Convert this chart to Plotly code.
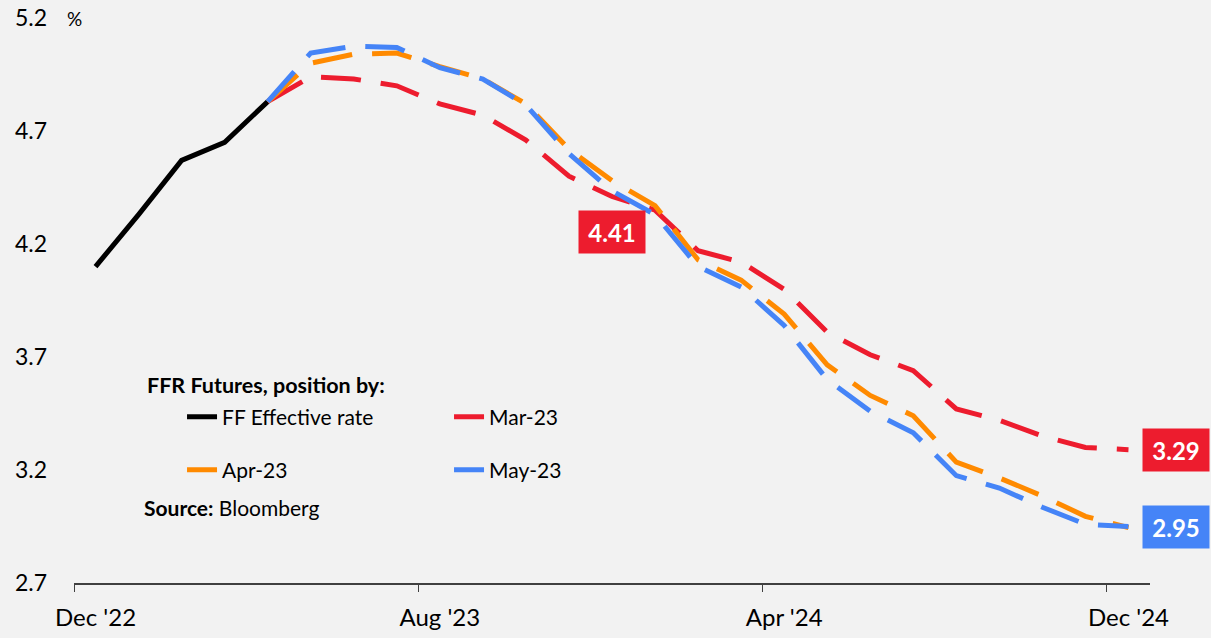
import plotly.graph_objects as go

# Categories: monthly, Dec '22 .. Dec '24 (index 0..24)
months = list(range(25))
tick_idx = [0, 8, 16, 24]
tick_text = ["Dec '22", "Aug '23", "Apr '24", "Dec '24"]
y_ticks = [2.7, 3.2, 3.7, 4.2, 4.7, 5.2]

N = None
ff_effective = [4.10, 4.33, 4.57, 4.65, 4.83] + [N] * 20
mar23 = [N, N, N, N, 4.83, 4.94, 4.93, 4.90, 4.82, 4.77, 4.66, 4.50, 4.41,
         4.35, 4.17, 4.12, 4.00, 3.81, 3.71, 3.64, 3.47, 3.42, 3.35, 3.30, 3.29]
apr23 = [N, N, N, N, 4.83, 5.00, 5.04, 5.045, 4.985, 4.93, 4.82, 4.62, 4.48,
         4.37, 4.13, 4.04, 3.89, 3.665, 3.53, 3.44, 3.235, 3.165, 3.085, 2.995, 2.945]
may23 = [N, N, N, N, 4.83, 5.045, 5.075, 5.07, 4.98, 4.93, 4.815, 4.60, 4.435,
         4.33, 4.10, 4.01, 3.84, 3.60, 3.46, 3.365, 3.175, 3.12, 3.035, 2.96, 2.95]

RED = "#ED1C2E"
ORANGE = "#FF8A00"
BLUE = "#4584F7"
BG = "#F2F2F2"
FONT = "Lato"
DASH = "40px,20px"

fig = go.Figure()
fig.add_trace(go.Scatter(x=months, y=ff_effective, mode="lines", name="FF Effective rate",
                         line=dict(color="#000000", width=5), legend="legend"))
fig.add_trace(go.Scatter(x=months, y=mar23, mode="lines", name="Mar-23",
                         line=dict(color=RED, width=5, dash=DASH), legend="legend"))
fig.add_trace(go.Scatter(x=months, y=apr23, mode="lines", name="Apr-23",
                         line=dict(color=ORANGE, width=5, dash=DASH), legend="legend2"))
fig.add_trace(go.Scatter(x=months, y=may23, mode="lines", name="May-23",
                         line=dict(color=BLUE, width=5, dash=DASH), legend="legend2"))

legend_common = dict(orientation="h", entrywidth=222, xanchor="left", yanchor="middle",
                     bgcolor="rgba(0,0,0,0)", font=dict(family=FONT, size=21, color="#000000"),
                     traceorder="normal")
fig.update_layout(
    width=1211, height=638,
    paper_bgcolor=BG, plot_bgcolor=BG,
    margin=dict(l=74, r=61, t=18, b=55, autoexpand=False),
    font=dict(family=FONT, color="#000000"),
    legend=dict(x=0.1004, y=0.2938, **legend_common),
    legend2=dict(x=0.1004, y=0.200, **legend_common),
    xaxis=dict(range=[-0.5, 24.5], tickmode="array", tickvals=tick_idx, ticktext=tick_text,
               ticks="", showgrid=False, zeroline=False, showline=True, automargin=False,
               linecolor="#404040", linewidth=1.5, ticklabelstandoff=12,
               tickfont=dict(family=FONT, size=24, color="#000000"),
               minor=dict(tickmode="array", tickvals=[-0.5, 7.5, 15.5, 23.5], ticks="outside",
                          ticklen=7, tickwidth=1.2, tickcolor="#404040", showgrid=False)),
    yaxis=dict(range=[2.7, 5.2], tickmode="array", tickvals=y_ticks,
               ticktext=[f"{v:.1f}" for v in y_ticks], ticks="", showgrid=False,
               zeroline=False, showline=False, ticklabelstandoff=26, automargin=False,
               tickfont=dict(family=FONT, size=23, color="#000000")),
    showlegend=True,
)

def value_box(xi, yv, text, color, xshift=0, yshift=0):
    fig.add_annotation(x=xi, y=yv, xref="x", yref="y", text=f"<b>{text}</b>",
                       showarrow=False, xshift=xshift, yshift=yshift,
                       xanchor="center", yanchor="middle", width=66, height=42,
                       align="center", valign="middle", bgcolor=color, borderpad=0,
                       font=dict(family=FONT, size=24, color="#FFFFFF"))

value_box(12, mar23[12], f"{mar23[12]:.2f}", RED, yshift=-35)
value_box(24, mar23[24], f"{mar23[24]:.2f}", RED, xshift=48)
value_box(24, may23[24], f"{may23[24]:.2f}", BLUE, xshift=48)

fig.add_annotation(x=0, y=1, xref="paper", yref="paper", text="%", showarrow=False,
                   xanchor="center", yanchor="middle", font=dict(family=FONT, size=19))
fig.add_annotation(x=0.066, y=0.3504, xref="paper", yref="paper",
                   text="<b>FFR Futures, position by:</b>", showarrow=False,
                   xanchor="left", yanchor="middle", font=dict(family=FONT, size=21.5))
fig.add_annotation(x=0.0632, y=0.1345, xref="paper", yref="paper",
                   text="<b>Source:</b> Bloomberg", showarrow=False,
                   xanchor="left", yanchor="middle", font=dict(family=FONT, size=21))

fig.write_html("out.html", config={"displayModeBar": False},
               post_script="document.body.style.margin='0';")
